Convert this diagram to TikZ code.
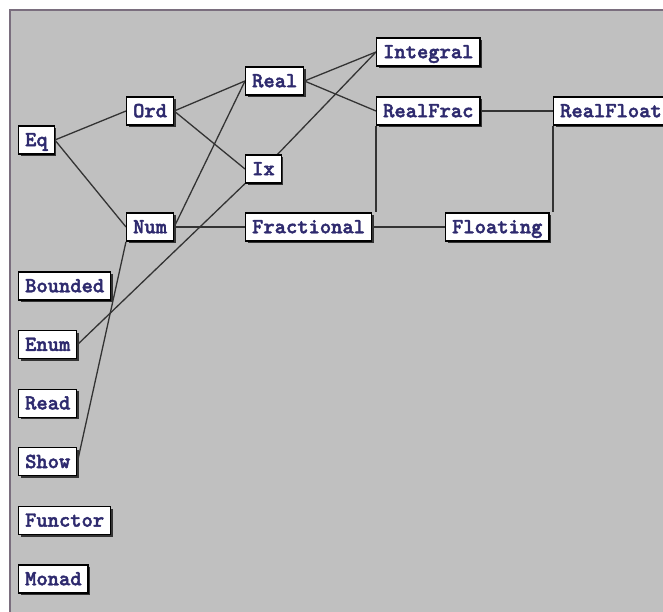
\documentclass[tikz,border=0pt]{standalone}
\usepackage{fontspec}
\newfontfamily\clsfont{lmmonolt10-bold}[Extension=.otf, FakeBold=2]
\usetikzlibrary{shadows}
\definecolor{bggray}{HTML}{C0C0C0}
\definecolor{frame}{HTML}{7A6E7E}
\definecolor{txt}{HTML}{2E2A6E}
\pgfdeclarelayer{back}
\pgfdeclarelayer{edges}
\pgfsetlayers{back,edges,main}
\tikzset{
  cls/.style={draw=black, line width=1.3pt, fill=white, anchor=west,
    font=\fontsize{21.5}{24}\selectfont\clsfont, text=txt,
    inner xsep=6.5pt, inner ysep=0pt, text height=16pt, text depth=3.5pt,
    minimum height=28pt,
    drop shadow={shadow xshift=2.2pt, shadow yshift=-2.2pt, fill=black!80, opacity=1}},
  link/.style={draw=black!80, line width=1.3pt}
}
\begin{document}
\begin{tikzpicture}[x=1pt,y=-1pt]
\clip (0,0) rectangle (663,612);
\begin{pgfonlayer}{back}
\fill[white] (0,0) rectangle (663,612);
\fill[bggray] (10,10) rectangle (663,612);
\draw[frame, line width=1.5pt] (10,612) -- (10,10) -- (663,10);
\end{pgfonlayer}
\node[cls] (eq) at (18,140) {Eq};
\node[cls] (ord) at (126,111) {Ord};
\node[cls] (num) at (126,227) {Num};
\node[cls] (real) at (245,81) {Real};
\node[cls] (ix) at (245,169) {Ix};
\node[cls] (fractional) at (245,227) {Fractional};
\node[cls] (integral) at (376,52) {Integral};
\node[cls] (realfrac) at (376,111) {RealFrac};
\node[cls] (realfloat) at (553,111) {RealFloat};
\node[cls] (floating) at (445,227) {Floating};
\node[cls] (bounded) at (18,286) {Bounded};
\node[cls] (enum) at (18,344.6) {Enum};
\node[cls] (read) at (18,403.2) {Read};
\node[cls] (show) at (18,461.8) {Show};
\node[cls] (functor) at (18,520.4) {Functor};
\node[cls] (monad) at (18,579) {Monad};
\begin{pgfonlayer}{edges}
\draw[link] (eq.east) -- (ord.west);
\draw[link] (eq.east) -- (num.west);
\draw[link] (ord.east) -- (real.west);
\draw[link] (ord.east) -- (ix.west);
\draw[link] (real.east) -- (integral.west);
\draw[link] (real.east) -- (realfrac.west);
\draw[link] (ix.center) -- (integral.west);
\draw[link] (num.east) -- (real.west);
\draw[link] (num.east) -- (fractional.west);
\draw[link] (enum.east) -- (ix.south west);
\draw[link] (show.east) -- (num.south west);
\draw[link] (realfrac.south west) -- (realfrac.south west |- fractional.north);
\draw[link] (fractional.east) -- (floating.west);
\draw[link] (realfloat.south west) -- (realfloat.south west |- floating.north);
\draw[link] (realfrac.east) -- (realfloat.west);
\end{pgfonlayer}
\end{tikzpicture}
\end{document}
